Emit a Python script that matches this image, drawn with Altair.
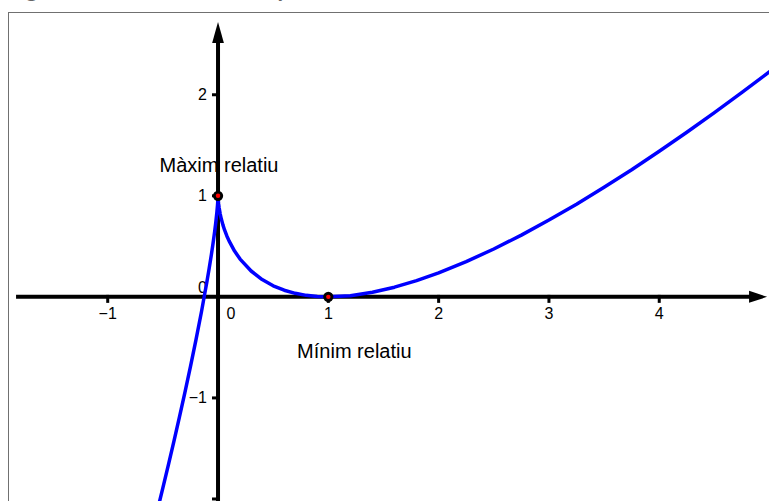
import altair as alt
import pandas as pd

# Sampled curve f(x): cusp (relative maximum) at x = 0, relative minimum at x = 1
curve_x = [-0.56, -0.5, -0.45, -0.4, -0.35, -0.3, -0.25, -0.2, -0.15, -0.1,
           -0.08, -0.06, -0.045, -0.03, -0.02, -0.01, -0.005, -0.002, 0.0,
           0.002, 0.005, 0.01, 0.02, 0.03, 0.045, 0.06, 0.08, 0.1, 0.15, 0.2,
           0.3, 0.4, 0.5, 0.6, 0.7, 0.8, 0.9, 1.0, 1.2, 1.4, 1.6, 1.8, 2.0,
           2.25, 2.5, 2.75, 3.0, 3.25, 3.5, 3.75, 4.0, 4.25, 4.5, 4.75, 5.0, 5.1]
curve_y = [-2.158, -1.89, -1.662, -1.429, -1.19, -0.944, -0.691, -0.426, -0.147, 0.154,
           0.283, 0.42, 0.53, 0.65, 0.739, 0.841, 0.902, 0.948, 1.0,
           0.956, 0.922, 0.881, 0.819, 0.77, 0.71, 0.66, 0.603, 0.554, 0.453, 0.374,
           0.256, 0.171, 0.11, 0.066, 0.035, 0.015, 0.0035, 0.0, 0.012, 0.0455, 0.096, 0.161, 0.238,
           0.349, 0.474, 0.611, 0.76, 0.917, 1.084, 1.258, 1.441, 1.629, 1.823, 2.023, 2.228, 2.311]

# Relative extrema and their captions
ext_x = [0, 1]
ext_y = [1, 0]
ext_label = ["Màxim relatiu", "Mínim relatiu"]

# Axis ticks and tick labels
x_ticks = [-1, 1, 2, 3, 4]
x_tick_labels = ["−1", "1", "2", "3", "4"]
y_ticks = [2, 1, -1, -2]
y_label_values = [2, 1, -1]
y_tick_labels = ["2", "1", "−1"]

# Axis extents (in data units) and arrowhead centres
x_axis_from, x_axis_to = -1.831, 4.85
y_axis_from, y_axis_to = -2.1, 2.56
x_arrow_at = 4.896
y_arrow_at = 2.617

X_DOMAIN = [-1.904, 4.995]
Y_DOMAIN = [-2.02, 2.819]
W, H = 761, 489
FONT = "Liberation Sans"

xs = alt.Scale(domain=X_DOMAIN, nice=False, zero=False)
ys = alt.Scale(domain=Y_DOMAIN, nice=False, zero=False)
X = alt.X("x:Q", scale=xs, axis=None)
Y = alt.Y("y:Q", scale=ys, axis=None)

curve_df = pd.DataFrame({"x": curve_x, "y": curve_y})
ext_df = pd.DataFrame({"x": ext_x, "y": ext_y, "label": ext_label})
xt_df = pd.DataFrame({"x": x_ticks, "y": [0] * len(x_ticks), "label": x_tick_labels})
yt_df = pd.DataFrame({"x": [0] * len(y_ticks), "y": y_ticks})
yl_df = pd.DataFrame({"x": [0] * len(y_label_values), "y": y_label_values, "label": y_tick_labels})
zero_df = pd.DataFrame({"x": [0], "y": [0], "label": ["0"]})
xaxis_df = pd.DataFrame({"x": [x_axis_from], "x2": [x_axis_to], "y": [0]})
yaxis_df = pd.DataFrame({"x": [0], "y": [y_axis_from], "y2": [y_axis_to]})
xarrow_df = pd.DataFrame({"x": [x_arrow_at], "y": [0]})
yarrow_df = pd.DataFrame({"x": [0], "y": [y_arrow_at]})

# Frame (left and top edges) and the caption line above it
frame_left = alt.Chart(zero_df).mark_rule(color="#707070", strokeWidth=1).encode(
    x=alt.value(0.5), y=alt.value(0), y2=alt.value(H))
frame_top = alt.Chart(zero_df).mark_rule(color="#707070", strokeWidth=1).encode(
    x=alt.value(0), x2=alt.value(W), y=alt.value(0.5))
caption = alt.Chart(zero_df).mark_text(
    align="left", baseline="alphabetic", font="Open Sans", fontSize=19, color="#666666"
).encode(x=alt.value(4), y=alt.value(-15.5), text=alt.value("Figura 1. Gràfica de la funció"))
caption_f = alt.Chart(zero_df).mark_text(
    align="left", baseline="alphabetic", font="Open Sans", fontSize=19, fontStyle="italic",
    color="#666666"
).encode(x=alt.value(273), y=alt.value(-15.5), text=alt.value("f(x) = 2x − 3∛x² + 1"))

# Captions of the extrema (drawn under the axes)
max_text = alt.Chart(ext_df).transform_filter(alt.datum.x == 0).mark_text(
    font=FONT, fontSize=20, align="center", baseline="alphabetic", dx=1, dy=-24, color="black"
).encode(x=X, y=Y, text="label:N")
min_text = alt.Chart(ext_df).transform_filter(alt.datum.x == 1).mark_text(
    font=FONT, fontSize=20, align="center", baseline="alphabetic", dx=26, dy=61, color="black"
).encode(x=X, y=Y, text="label:N")

# Axes with arrowheads
x_axis = alt.Chart(xaxis_df).mark_rule(color="black", strokeWidth=4).encode(
    x=X, x2="x2:Q", y=Y)
y_axis = alt.Chart(yaxis_df).mark_rule(color="black", strokeWidth=4).encode(
    x=X, y=Y, y2="y2:Q")
x_arrow = alt.Chart(xarrow_df).mark_point(
    shape="M-1,-0.667L1,0L-1,0.667Z", size=324, filled=True, color="black",
    opacity=1, strokeWidth=0
).encode(x=X, y=Y)
y_arrow = alt.Chart(yarrow_df).mark_point(
    shape="M-0.56,1L0,-1L0.56,1Z", size=441, filled=True, color="black",
    opacity=1, strokeWidth=0
).encode(x=X, y=Y)

x_tick_marks = alt.Chart(xt_df).mark_tick(
    orient="vertical", size=8, thickness=3, yOffset=2, color="black", opacity=1
).encode(x=X, y=Y)
y_tick_marks = alt.Chart(yt_df).mark_tick(
    orient="horizontal", size=8, thickness=3, xOffset=-2, color="black", opacity=1
).encode(x=X, y=Y)

x_labels = alt.Chart(xt_df).mark_text(
    font=FONT, fontSize=16, align="center", baseline="middle", dy=17, color="black"
).encode(x=X, y=Y, text="label:N")
y_labels = alt.Chart(yl_df).mark_text(
    font=FONT, fontSize=16, align="right", baseline="middle", dx=-11, color="black"
).encode(x=X, y=Y, text="label:N")
x_zero = alt.Chart(zero_df).mark_text(
    font=FONT, fontSize=16, align="center", baseline="middle", dx=13, dy=17, color="black"
).encode(x=X, y=Y, text="label:N")
y_zero = alt.Chart(zero_df).mark_text(
    font=FONT, fontSize=16, align="right", baseline="middle", dx=-11, dy=-9, color="black"
).encode(x=X, y=Y, text="label:N")

# The function graph
curve = alt.Chart(curve_df).mark_line(
    color="#0000FF", strokeWidth=3.5, clip=True, strokeJoin="round"
).encode(x=X, y=Y)

# Extremum points: black disc with red centre
pts_outer = alt.Chart(ext_df).mark_point(
    shape="circle", size=105, filled=True, color="black", opacity=1, strokeWidth=0
).encode(x=X, y=Y)
pts_inner = alt.Chart(ext_df).mark_point(
    shape="circle", size=20, filled=True, color="#FF0000", opacity=1, strokeWidth=0
).encode(x=X, y=Y)

chart = alt.layer(
    frame_left, frame_top, caption, caption_f,
    max_text, min_text,
    x_labels, y_labels, x_zero, y_zero,
    x_axis, y_axis, x_arrow, y_arrow, x_tick_marks, y_tick_marks,
    curve, pts_outer, pts_inner,
).properties(
    width=W, height=H,
    autosize="none",
    padding={"left": 8, "top": 12, "right": 0, "bottom": 0},
    background="white",
).configure_view(strokeWidth=0)

chart.save("out.html", embed_options={"renderer": "svg", "actions": False})
